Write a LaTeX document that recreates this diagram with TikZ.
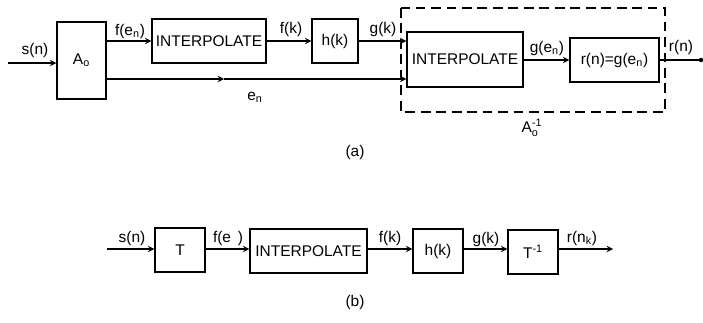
\documentclass[tikz,border=0pt]{standalone}
\usepackage{amsmath}
\usepackage{fontspec}
\setmainfont{Liberation Sans}
\usetikzlibrary{calc}

\begin{document}
\begin{tikzpicture}[x=0.025cm,y=-0.025cm,
    every node/.style={font=\fontsize{11}{13}\selectfont},
    blk/.style={draw,line width=1pt,inner sep=0pt,minimum height=1.1cm},
    sig/.style={line width=1pt,-stealth},
    wire/.style={line width=1pt},
    lbl/.style={inner sep=0pt}]
    \useasboundingbox (0,0) rectangle (703,322);
    % (a)
        \node[blk,minimum width=1.225cm,minimum height=1.925cm] (ao) at (81.5,60.5) {A$_{\text{o}}$};
        \node[blk,minimum width=2.85cm] (ipa) at (209,41) {INTERPOLATE};
        \node[blk,minimum width=1.15cm] (hka) at (335,41) {h(k)};
        \node[blk,minimum width=2.9cm,minimum height=1.375cm] (ipb) at (465,59.5) {INTERPOLATE};
        \node[blk,minimum width=2.225cm] (rn) at (614.5,60) {r(n)=g(e$_{\text{n}}$)};
        % dashed box for the inverse
        \draw[wire,dash pattern=on 7pt off 4pt] (401,8) rectangle (665,112);

        \coordinate (sin) at (8,63);
        \coordinate (enmid) at (224,79);
        \coordinate (rout) at (701,60);
        \draw[sig] (sin) -- (sin -| ao.west);
        \draw[sig] (ao.east |- ipa.west) -- (ipa.west);
        \draw[sig] (ipa.east) -- (hka.west);
        \draw[sig] (hka.east) -- (hka.east -| ipb.west);
        \draw[sig] (ao.east |- enmid) -- (enmid);
        \draw[sig] (enmid) -- (enmid -| ipb.west);
        \draw[sig] (ipb.east |- rn.west) -- (rn.west);
        \draw[wire] (rn.east) -- (rout);
        \fill (rout) circle[radius=1.6pt];

        \node[lbl] (lsn) at (35,50) {s(n)};
        \node[lbl] (lfen) at (130,31) {f(e$_{\text{n}}$)};
        \node[lbl] (lfk) at (291,29) {f(k)};
        \node[lbl] (lgk) at (383,29) {g(k)};
        \node[lbl] (len) at (255,97) {e$_{\text{n}}$};
        \node[lbl] (lgen) at (547,48) {g(e$_{\text{n}}$)};
        \node[lbl] (lrn) at (681,47) {r(n)};
        \node[lbl] (lainv) at (532,128) {A$_{\text{o}}^{\text{-1}}$};
        \node[lbl] (capa) at (355,152) {(a)};
    % (b)
        \node[blk,minimum width=1.25cm] (t) at (180,250) {T};
        \node[blk,minimum width=2.925cm] (ipc) at (308.5,251) {INTERPOLATE};
        \node[blk,minimum width=1.25cm] (hkb) at (438,251) {h(k)};
        \node[blk,minimum width=1.25cm] (tinv) at (533,252) {T$^{\text{-1}}$};

        \coordinate (sinb) at (107,249);
        \coordinate (routb) at (613,249);
        \draw[sig] (sinb) -- (sinb -| t.west);
        \draw[sig] (t.east |- sinb) -- (sinb -| ipc.west);
        \draw[sig] (ipc.east |- sinb) -- (sinb -| hkb.west);
        \draw[sig] (hkb.east |- sinb) -- (sinb -| tinv.west);
        \draw[sig] (tinv.east |- sinb) -- (routb);

        \node[lbl] (lsnb) at (132,238) {s(n)};
        \node[lbl] (lfe) at (228,238) {f(e\phantom{$_{\text{n}}$})};
        \node[lbl] (lfkb) at (390,238) {f(k)};
        \node[lbl] (lgkb) at (486,239) {g(k)};
        \node[lbl] (lrnk) at (582,238) {r(n$_{\text{k}}$)};
        \node[lbl] (capb) at (355,302) {(b)};
\end{tikzpicture}
\end{document}
